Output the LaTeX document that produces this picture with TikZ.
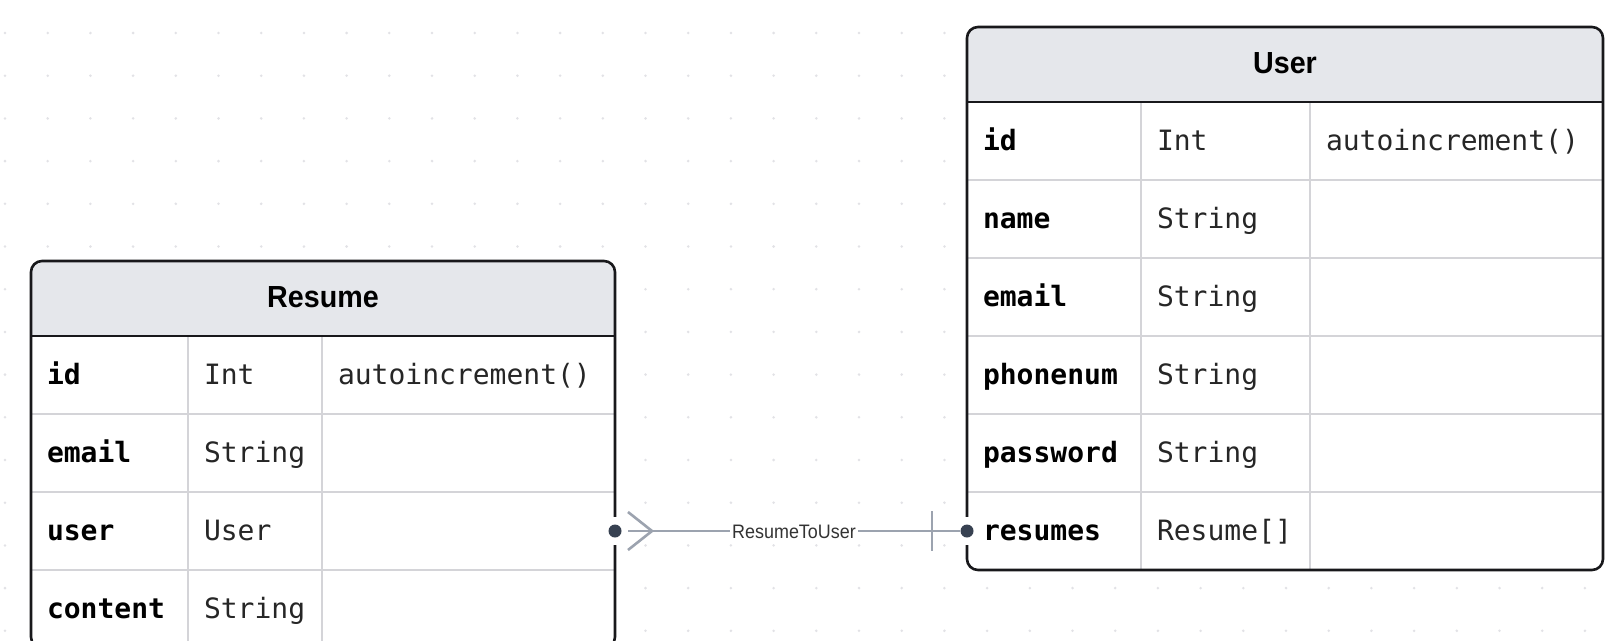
\documentclass[tikz,border=0pt]{standalone}
\usepackage{fontspec}
\setmainfont{Liberation Sans}
\setmonofont{DejaVu Sans Mono}
\newfontfamily\cabecerafont{Liberation Sans}[FakeStretch=0.94]
\newfontfamily\etiquetafont{Liberation Sans}[FakeStretch=0.92]
\usetikzlibrary{positioning}
\definecolor{cabecera}{HTML}{E5E7EB}
\definecolor{celda}{HTML}{D4D4D8}
\definecolor{borde}{HTML}{18181B}
\definecolor{relacion}{HTML}{9CA3AF}
\definecolor{punto}{HTML}{374151}
\definecolor{rejilla}{HTML}{E2E2E6}
\tikzstyle{TablaCabecera}=[rectangle, fill=cabecera, inner sep=0pt, outer sep=0pt, minimum height=75pt, text height=22pt, text depth=5pt, font=\fontsize{30.5}{36}\selectfont\cabecerafont\bfseries]
\tikzstyle{Campo}=[rectangle, draw=celda, line width=2.2pt, fill=white, inner xsep=16pt, inner ysep=0pt, outer sep=0pt, minimum height=78pt, align=left, text height=22pt, text depth=4pt]
\tikzstyle{CampoNombre}=[Campo, text=black, font=\fontsize{28}{34}\selectfont\ttfamily\bfseries]
\tikzstyle{CampoTipo}=[Campo, text=black!85, font=\fontsize{28}{34}\selectfont\ttfamily]
\tikzstyle{ResumeNombre}=[CampoNombre, text width=125pt]
\tikzstyle{ResumeTipo}=[CampoTipo, text width=102pt]
\tikzstyle{ResumeExtra}=[CampoTipo, text width=261pt]
\tikzstyle{UserNombre}=[CampoNombre, text width=142pt]
\tikzstyle{UserTipo}=[CampoTipo, text width=137pt]
\tikzstyle{UserExtra}=[CampoTipo, text width=261pt]
\tikzstyle{TablaBorde}=[draw=borde, line width=2.6pt, rounded corners=11pt]
\tikzstyle{Relacion}=[draw=relacion, line width=2.6pt]
\tikzstyle{RelEtiqueta}=[fill=white, inner xsep=2pt, inner ysep=0pt, text height=14pt, text depth=0pt, text=black!80, font=\fontsize{19.5}{22}\selectfont\etiquetafont]
\tikzstyle{Punto}=[fill=punto]

\begin{document}
\begin{tikzpicture}[x=1pt, y=-1pt]
			%Fondo
			\useasboundingbox (0,0) rectangle (1624,640);
			\clip (0,0) rectangle (1624,640);
			\fill[white] (0,0) rectangle (1624,640);
			\foreach \i in {0,...,37}
				\foreach \j in {0,...,14}
					\fill[rejilla] (5+42.7*\i, 33+42.7*\j) circle (1.4pt);

			%Tabla Resume
			\begin{scope}
				\clip[rounded corners=11pt] (31,261) rectangle (615,660);
				\node[TablaCabecera, minimum width=584pt, anchor=north west]	(resume)	at (31,261)	{Resume};

				\node[ResumeNombre]	(resume_id)			[below right=0pt of resume.south west]	{id};
				\node[ResumeTipo]		(resume_id_tipo)		[right=0pt of resume_id]			{Int};
				\node[ResumeExtra]		(resume_id_extra)		[right=0pt of resume_id_tipo]		{autoincrement()};

				\node[ResumeNombre]	(resume_email)		[below=0pt of resume_id]			{email};
				\node[ResumeTipo]		(resume_email_tipo)	[right=0pt of resume_email]		{String};
				\node[ResumeExtra]		(resume_email_extra)	[right=0pt of resume_email_tipo]	{};

				\node[ResumeNombre]	(resume_user)		[below=0pt of resume_email]		{user};
				\node[ResumeTipo]		(resume_user_tipo)	[right=0pt of resume_user]		{User};
				\node[ResumeExtra]		(resume_user_extra)	[right=0pt of resume_user_tipo]	{};

				\node[ResumeNombre]	(resume_content)		[below=0pt of resume_user]		{content};
				\node[ResumeTipo]		(resume_content_tipo)	[right=0pt of resume_content]		{String};
				\node[ResumeExtra]		(resume_content_extra)	[right=0pt of resume_content_tipo]	{};
			\end{scope}
			\draw[TablaBorde] (resume.north west) rectangle (resume_content_extra.south east);
			\draw[TablaBorde] (resume.south west) -- (resume.south east);

			%Tabla User
			\begin{scope}
				\clip[rounded corners=11pt] (967,27) rectangle (1603,570);
				\node[TablaCabecera, minimum width=636pt, anchor=north west]	(user)	at (967,27)	{User};

				\node[UserNombre]	(user_id)			[below right=0pt of user.south west]	{id};
				\node[UserTipo]		(user_id_tipo)		[right=0pt of user_id]				{Int};
				\node[UserExtra]		(user_id_extra)		[right=0pt of user_id_tipo]			{autoincrement()};

				\node[UserNombre]	(user_name)			[below=0pt of user_id]				{name};
				\node[UserTipo]		(user_name_tipo)		[right=0pt of user_name]			{String};
				\node[UserExtra]		(user_name_extra)		[right=0pt of user_name_tipo]		{};

				\node[UserNombre]	(user_email)			[below=0pt of user_name]			{email};
				\node[UserTipo]		(user_email_tipo)		[right=0pt of user_email]			{String};
				\node[UserExtra]		(user_email_extra)		[right=0pt of user_email_tipo]		{};

				\node[UserNombre]	(user_phonenum)		[below=0pt of user_email]			{phonenum};
				\node[UserTipo]		(user_phonenum_tipo)	[right=0pt of user_phonenum]		{String};
				\node[UserExtra]		(user_phonenum_extra)	[right=0pt of user_phonenum_tipo]	{};

				\node[UserNombre]	(user_password)		[below=0pt of user_phonenum]		{password};
				\node[UserTipo]		(user_password_tipo)	[right=0pt of user_password]		{String};
				\node[UserExtra]		(user_password_extra)	[right=0pt of user_password_tipo]	{};

				\node[UserNombre]	(user_resumes)		[below=0pt of user_password]		{resumes};
				\node[UserTipo]		(user_resumes_tipo)	[right=0pt of user_resumes]		{Resume[]};
				\node[UserExtra]		(user_resumes_extra)	[right=0pt of user_resumes_tipo]	{};
			\end{scope}
			\draw[TablaBorde] (user.north west) rectangle (user_resumes_extra.south east);
			\draw[TablaBorde] (user.south west) -- (user.south east);

			%Lineas
			\draw[white, line width=5pt] ([yshift=14pt]resume_user_extra.east) -- ([yshift=-14pt]resume_user_extra.east);
			\draw[white, line width=5pt] ([yshift=14pt]user_resumes.west) -- ([yshift=-14pt]user_resumes.west);
			\draw[Relacion] ([xshift=13pt]resume_user_extra.east) -- node[RelEtiqueta] (resume_to_user) {ResumeToUser} ([xshift=-7pt]user_resumes.west);
			\draw[Relacion] ([xshift=13pt,yshift=19pt]resume_user_extra.east) -- ([xshift=37pt]resume_user_extra.east) -- ([xshift=13pt,yshift=-19pt]resume_user_extra.east);
			\draw[Relacion] ([xshift=-35pt,yshift=20pt]user_resumes.west) -- ([xshift=-35pt,yshift=-20pt]user_resumes.west);
			\fill[Punto] (resume_user_extra.east) circle (6.5pt);
			\fill[Punto] (user_resumes.west) circle (6.5pt);

		\end{tikzpicture}
\end{document}
